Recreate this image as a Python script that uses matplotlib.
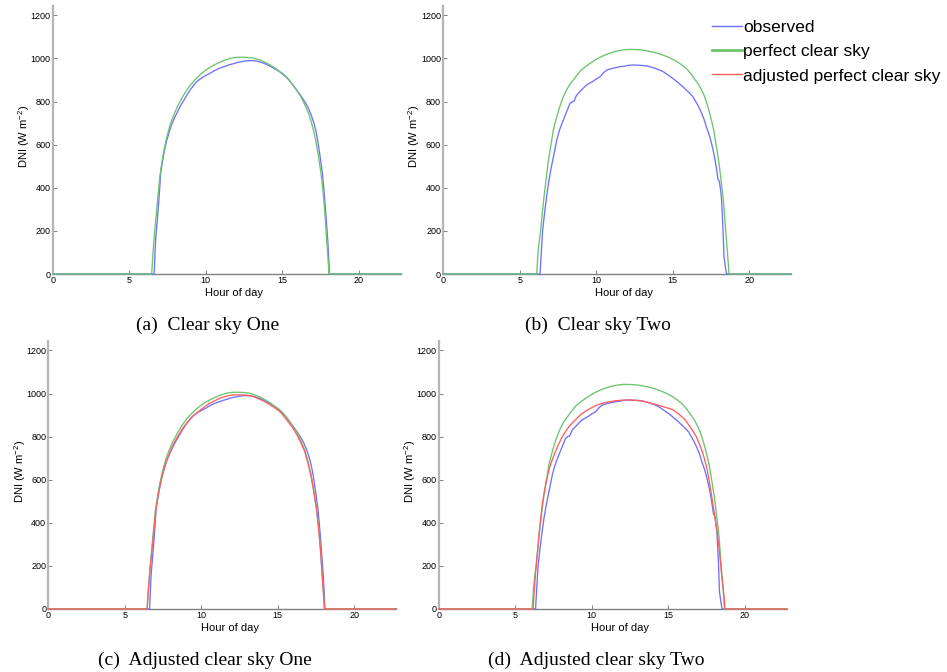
import matplotlib
matplotlib.use("Agg")
import matplotlib.pyplot as plt
from matplotlib.lines import Line2D

plt.rcParams["font.family"] = ["Liberation Sans", "DejaVu Sans"]
plt.rcParams["mathtext.default"] = "regular"

# ---- Day one: (hour of day, DNI in W m^-2) ----
obs1 = [(0, 0), (6.62, 0), (6.67, 80), (6.72, 158), (6.81, 235), (6.90, 312), (6.98, 390),
        (7.05, 467), (7.14, 508), (7.22, 544), (7.33, 585), (7.45, 621), (7.60, 657),
        (7.75, 690), (7.97, 727), (8.20, 760), (8.40, 787), (8.60, 810), (8.78, 832),
        (8.97, 853), (9.18, 873), (9.40, 892), (9.60, 903), (9.80, 913), (10.05, 923),
        (10.27, 931), (10.55, 943), (10.8, 952), (11.1, 960), (11.47, 969), (11.8, 976),
        (12.1, 982), (12.45, 987), (12.8, 990), (13.1, 990), (13.4, 987), (13.75, 979),
        (14.09, 969), (14.3, 961), (14.5, 952), (14.75, 942), (14.96, 931), (15.15, 920),
        (15.3, 910), (15.5, 895), (15.72, 875), (15.94, 853), (16.12, 836), (16.3, 818),
        (16.48, 798), (16.66, 776), (16.87, 742), (17.07, 699), (17.2, 662), (17.31, 621),
        (17.47, 545), (17.62, 467), (17.72, 390), (17.81, 312), (17.89, 235), (17.97, 158),
        (18.03, 80), (18.08, 0), (22.75, 0)]

clr1 = [(0, 0), (6.46, 0), (6.55, 100), (6.65, 190), (6.75, 265), (6.83, 330), (6.92, 395),
        (7.00, 455), (7.09, 500), (7.18, 540), (7.29, 582), (7.40, 620), (7.55, 662),
        (7.70, 700), (7.92, 740), (8.14, 776), (8.45, 818), (8.75, 853), (9.0, 877),
        (9.25, 898), (9.5, 916), (9.73, 931), (10.0, 946), (10.3, 960), (10.6, 972),
        (10.9, 982), (11.2, 991), (11.6, 1001), (12.0, 1005), (12.3, 1006), (12.7, 1005),
        (13.1, 1002), (13.4, 996), (13.7, 988), (14.0, 978), (14.2, 970), (14.5, 957),
        (14.8, 941), (15.07, 928), (15.3, 913), (15.5, 895), (15.75, 870), (15.94, 853),
        (16.25, 818), (16.53, 776), (16.75, 740), (16.92, 699), (17.05, 662), (17.18, 621),
        (17.36, 548), (17.53, 467), (17.65, 392), (17.75, 312), (17.83, 237), (17.90, 158),
        (17.98, 80), (18.05, 0), (22.75, 0)]

adj1 = [(0, 0), (6.46, 0), (6.55, 98), (6.65, 186), (6.75, 258), (6.84, 322), (6.93, 388),
        (7.01, 448), (7.10, 493), (7.20, 532), (7.31, 573), (7.42, 610), (7.57, 650),
        (7.73, 688), (7.95, 728), (8.18, 765), (8.5, 806), (8.80, 840), (9.05, 863),
        (9.25, 880), (9.5, 899), (9.80, 915), (10.0, 927), (10.25, 940), (10.45, 950),
        (10.65, 958), (10.9, 967), (11.1, 975), (11.6, 987), (12.0, 993), (12.4, 994),
        (12.8, 993), (13.2, 990), (13.5, 983), (13.7, 977), (14.0, 967), (14.2, 960),
        (14.5, 947), (14.7, 938), (15.1, 918), (15.3, 903), (15.5, 885), (15.75, 862),
        (15.95, 843), (16.25, 808), (16.53, 768), (16.75, 732), (16.92, 690), (17.05, 653),
        (17.18, 613), (17.36, 540), (17.53, 462), (17.65, 386), (17.75, 308), (17.83, 232),
        (17.90, 156), (17.98, 78), (18.05, 0), (22.75, 0)]

# ---- Day two ----
obs2 = [(0, 0), (6.33, 0), (6.42, 110), (6.50, 204), (6.63, 285), (6.76, 359), (6.90, 430),
        (7.05, 490), (7.25, 560), (7.42, 620), (7.60, 668), (7.85, 714), (8.05, 750),
        (8.29, 792), (8.45, 800), (8.55, 802), (8.72, 830), (8.94, 846), (9.15, 862),
        (9.37, 877), (9.55, 885), (9.81, 895), (10.0, 905), (10.25, 915), (10.45, 932),
        (10.68, 946), (10.9, 951), (11.1, 955), (11.3, 958), (11.55, 962), (11.8, 964),
        (12.0, 967), (12.2, 969), (12.42, 970), (12.65, 969), (12.9, 968), (13.1, 967),
        (13.29, 966), (13.5, 962), (13.7, 958), (13.95, 952), (14.16, 946), (14.4, 938),
        (14.6, 928), (14.8, 918), (15.02, 907), (15.2, 897), (15.4, 885), (15.65, 870),
        (15.9, 853), (16.1, 840), (16.33, 822), (16.55, 795), (16.7, 775), (16.87, 750),
        (17.05, 718), (17.2, 683), (17.33, 657), (17.45, 630), (17.6, 588), (17.74, 540),
        (17.86, 490), (17.96, 440), (18.05, 430), (18.12, 395), (18.18, 359), (18.24, 280),
        (18.29, 204), (18.35, 81), (18.45, 30), (18.52, 0), (22.75, 0)]

clr2 = [(0, 0), (6.11, 0), (6.20, 100), (6.28, 152), (6.37, 204), (6.48, 282), (6.59, 359),
        (6.72, 436), (6.85, 513), (7.02, 590), (7.20, 668), (7.34, 708), (7.48, 745),
        (7.66, 785), (7.85, 822), (8.0, 845), (8.15, 865), (8.32, 884), (8.50, 900),
        (8.75, 924), (9.00, 945), (9.3, 962), (9.59, 977), (9.85, 989), (10.1, 1000),
        (10.35, 1009), (10.57, 1016), (10.9, 1025), (11.2, 1032), (11.5, 1037), (11.8, 1040),
        (12.1, 1042), (12.41, 1042), (12.7, 1041), (13.0, 1039), (13.35, 1035), (13.7, 1030),
        (14.05, 1023), (14.37, 1016), (14.65, 1008), (14.9, 1000), (15.2, 989), (15.46, 977),
        (15.75, 962), (16.0, 945), (16.25, 924), (16.48, 900), (16.65, 884), (16.8, 865),
        (16.95, 845), (17.09, 822), (17.26, 785), (17.42, 745), (17.55, 708), (17.68, 668),
        (17.86, 590), (18.03, 513), (18.16, 436), (18.29, 359), (18.38, 282), (18.46, 204),
        (18.52, 152), (18.58, 100), (18.68, 0), (22.75, 0)]

adj2 = [(0, 0), (6.17, 0), (6.25, 90), (6.35, 181), (6.45, 260), (6.54, 336), (6.66, 415),
        (6.78, 492), (6.89, 538), (7.00, 580), (7.21, 647), (7.40, 688), (7.59, 724),
        (7.84, 765), (8.09, 801), (8.30, 825), (8.50, 845), (8.73, 863), (8.96, 879),
        (9.15, 893), (9.35, 905), (9.55, 916), (9.76, 925), (10.0, 934), (10.3, 945),
        (10.6, 952), (10.9, 958), (11.2, 962), (11.5, 966), (12.0, 969), (12.5, 970),
        (13.0, 968), (13.5, 962), (13.75, 958), (14.0, 952), (14.3, 947), (14.6, 940),
        (14.95, 933), (15.3, 925), (15.7, 904), (16.1, 879), (16.45, 843), (16.83, 801),
        (17.05, 763), (17.26, 724), (17.4, 688), (17.55, 647), (17.73, 573), (17.91, 492),
        (18.08, 414), (18.24, 336), (18.36, 258), (18.46, 181), (18.55, 120), (18.62, 80),
        (18.72, 0), (22.75, 0)]

series_labels = ["observed", "perfect clear sky", "adjusted perfect clear sky"]
captions = ["(a)  Clear sky One", "(b)  Clear sky Two",
            "(c)  Adjusted clear sky One", "(d)  Adjusted clear sky Two"]
x_ticks = [0, 5, 10, 15, 20]
y_ticks = [0, 200, 400, 600, 800, 1000, 1200]

C_OBS = "#7070ff"
C_CLR = "#6cc46c"
C_ADJ = "#ff5f5f"

W, H = 947, 672
fig = plt.figure(figsize=(W / 100, H / 100), dpi=100)

XMAX, YMAX = 22.75, 1245
PX_PER_H = 15.3
PX_PER_V = 0.2155


def add_panel(x0, y0):
    w = XMAX * PX_PER_H
    h = YMAX * PX_PER_V
    return fig.add_axes([x0 / W, 1 - y0 / H, w / W, h / H]), w, h


def xy(pairs):
    hours, values = zip(*pairs)
    return list(hours), list(values)


panels = [
    (52.8, 274, obs1, clr1, None),
    (443.2, 274, obs2, clr2, None),
    (48.3, 609, obs1, clr1, adj1),
    (438.7, 609, obs2, clr2, adj2),
]

for (x0, y0, obs, clr, adj) in panels:
    ax, aw, ah_px = add_panel(x0, y0)
    kw = dict(lw=0.95, zorder=3, clip_on=False)
    ax.plot(*xy(obs), color=C_OBS, **kw)
    ax.plot(*xy(clr), color=C_CLR, **kw)
    if adj is not None:
        ax.plot(*xy(adj), color=C_ADJ, **kw)
    ax.set_xlim(0, XMAX)
    ax.set_ylim(0, YMAX)
    ax.set_xticks(x_ticks)
    ax.set_yticks(y_ticks)
    for s in ("top", "right"):
        ax.spines[s].set_visible(False)
    ax.spines["left"].set_color("#b5b5b5")
    ax.spines["left"].set_linewidth(1.6)
    ax.spines["bottom"].set_color("#808080")
    ax.spines["bottom"].set_linewidth(1.0)
    ax.tick_params(direction="in", length=3, width=0.7, color="#808080",
                   labelsize=6.5, pad=1.5)
    ax.set_xlabel("Hour of day", fontsize=8)
    ax.set_ylabel("DNI (W m$^{-2}$)", fontsize=8)
    ax.xaxis.set_label_coords((234 - 52.8) / aw, -14 / ah_px)
    ax.yaxis.set_label_coords((32 - 52.8) / aw, 0.514)
    ax.patch.set_alpha(0)

# legend beside the top-right panel
handles = [Line2D([], [], color=C_OBS, lw=1.0),
           Line2D([], [], color=C_CLR, lw=2.0),
           Line2D([], [], color=C_ADJ, lw=1.0)]
fig.legend(handles, series_labels, loc="upper left",
           bbox_to_anchor=(712 / W, 1 - 20 / H), frameon=False,
           fontsize=12.5, handlelength=1.7, handletextpad=0.1,
           labelspacing=0.52, borderpad=0, borderaxespad=0)

cap_pos = [(208, 325), (598, 325), (205, 660), (596, 660)]
for txt, (cx, cy) in zip(captions, cap_pos):
    fig.text(cx / W, 1 - cy / H, txt, ha="center", va="center",
             fontsize=14, family="Liberation Serif")

fig.savefig("out.png", dpi=100)
